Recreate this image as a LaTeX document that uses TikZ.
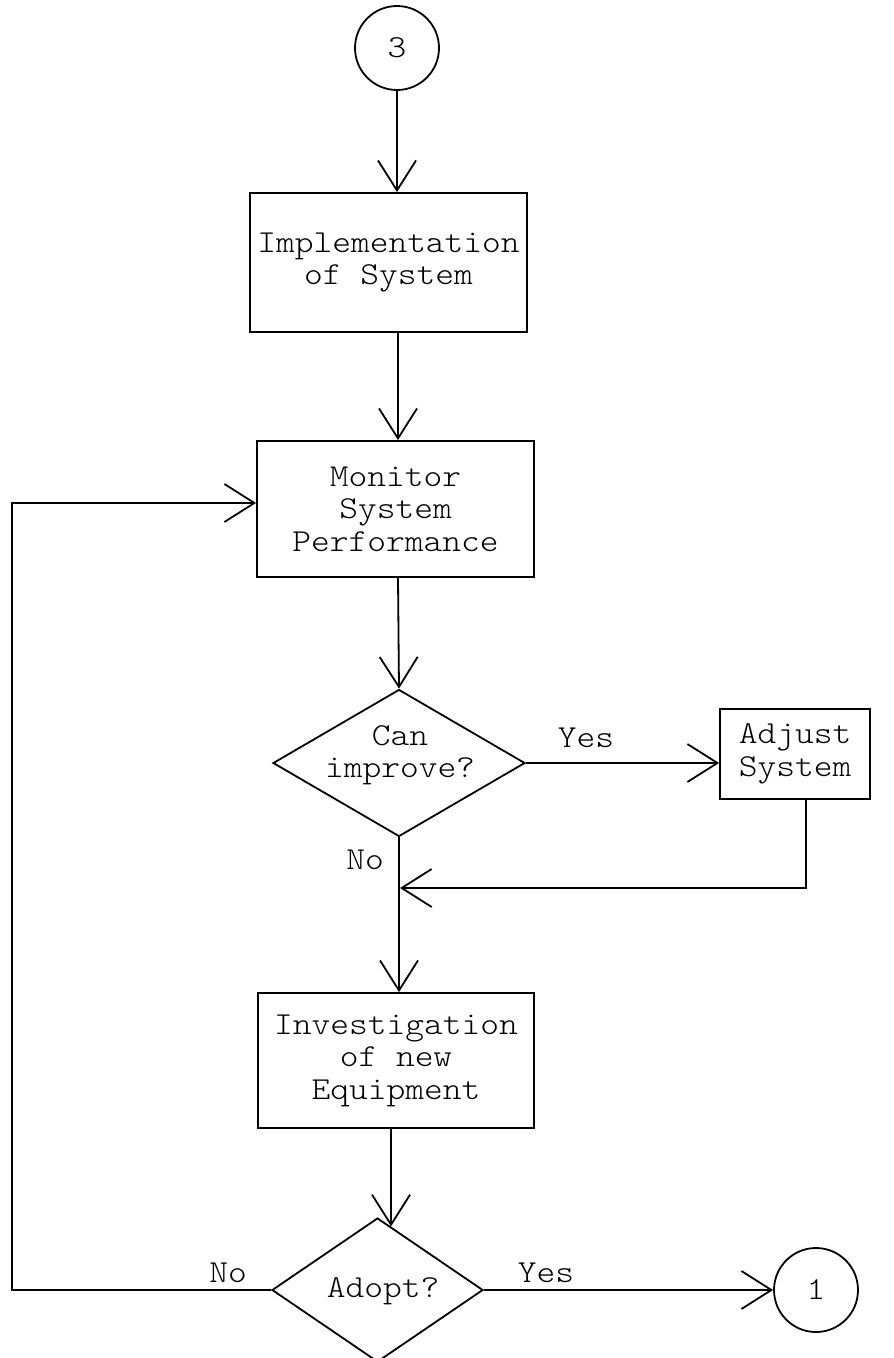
\documentclass[tikz,border=0pt]{standalone}
\usepackage{fontspec}
\setmainfont{Latin Modern Mono Light}[FakeStretch=1.116]
\usetikzlibrary{arrows.meta,shapes.geometric}

\tikzset{
  flow/.style={line width=1.8pt, -{Straight Barb[length=30pt,width=38pt,line width=1.8pt]}},
  procbox/.style={draw, line width=1.8pt, rectangle, align=center, inner sep=0pt,
    font=\fontsize{32}{32.5}\selectfont},
  decision/.style={draw, line width=1.8pt, diamond, inner sep=0pt},
  connector/.style={draw, line width=1.8pt, circle, inner sep=0pt, minimum size=84pt,
    font=\fontsize{32}{32.5}\selectfont},
  words/.style={align=center, inner sep=0pt, font=\fontsize{32}{32.5}\selectfont},
}

\begin{document}
\begin{tikzpicture}[x=1pt, y=-1pt]
  \fill[white] (0,0) rectangle (894,1358);
  \clip (0,0) rectangle (894,1358);

  % off-page connectors
  \node[connector] (c3) at (397,48) {3};
  \node[connector] (c1) at (816,1290) {1};

  % process boxes
  \node[procbox, minimum width=277pt, minimum height=139pt] (impl) at (388.5,262.5)
    {Implementation\\ of System};
  \node[procbox, minimum width=277pt, minimum height=136pt] (mon) at (395.5,509)
    {Monitor\\System\\Performance};
  \node[procbox, minimum width=150pt, minimum height=90pt] (adj) at (795,754)
    {Adjust\\System};
  \node[procbox, minimum width=276pt, minimum height=135pt] (inv) at (396,1060.5)
    {Investigation\\of new\\Equipment};

  % decisions
  \node[decision, minimum width=252pt, minimum height=147pt] (can) at (399,763) {};
  \node[words] (cantext) at (400,755) {Can\\improve?};
  \node[decision, minimum width=211pt, minimum height=144pt] (ado) at (377.5,1290) {};
  \node[words, anchor=base] (adotext) at (383,1297) {Adopt?};

  % branch labels
  \node[words, anchor=base] (yes1) at (586,747) {Yes};
  \node[words, anchor=base] (no1) at (365,869) {No};
  \node[words, anchor=base] (no2) at (228,1282) {No};
  \node[words, anchor=base] (yes2) at (546,1282) {Yes};

  % helper points
  \coordinate (spine) at (398,0);
  \coordinate (merge) at (400,888);
  \coordinate (loopx) at (12,0);
  \coordinate (monin) at ([yshift=6pt]mon.west);

  % main flow
  \draw[flow] (c3.south) -- (c3.south |- impl.north);
  \draw[flow] (impl.south -| spine) -- (mon.north -| spine);
  \draw[flow] (mon.south -| spine) -- (can.north);
  \draw[flow] (can.east) -- (adj.west |- can.east);
  \draw[flow] ([xshift=11pt]adj.south) |- (merge);
  \draw[flow] (can.south) -- (can.south |- inv.north);
  \draw[flow] (ado.78.6 |- inv.south) -- (ado.78.6);
  \draw[flow] (ado.east) -- (c1.west);
  \draw[flow] (ado.west) -- (ado.west -| loopx) -- (loopx |- monin) -- (monin);
\end{tikzpicture}
\end{document}
